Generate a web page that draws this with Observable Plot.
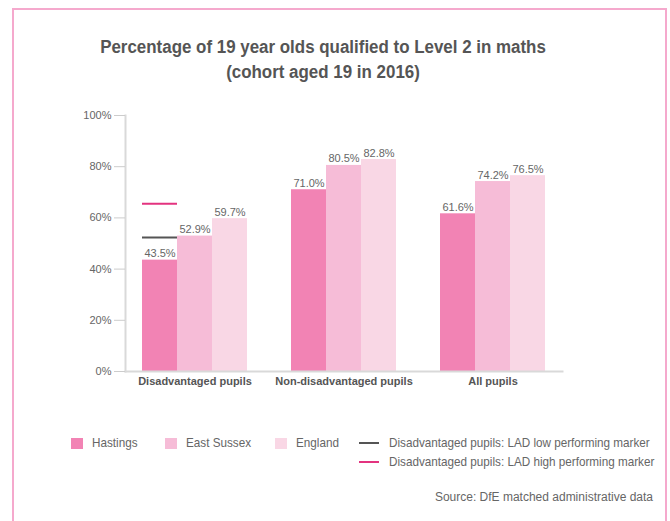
<!DOCTYPE html>
<html><head><meta charset="utf-8">
<script src="https://cdn.jsdelivr.net/npm/d3@7"></script>
<script src="https://cdn.jsdelivr.net/npm/@observablehq/plot@0.6"></script>
<style>
body{margin:0;background:#fff;}
#wrap{position:relative;width:670px;height:521px;overflow:hidden;font-family:"Liberation Sans",Arial,sans-serif;}
#border{position:absolute;left:12px;top:8px;width:651px;height:560px;border:2px solid #f5a9cd;}
#title{position:absolute;left:0;width:646px;top:35px;text-align:center;font-weight:bold;font-size:18px;line-height:25px;color:#555;transform:scaleX(0.94);transform-origin:323px 0;}
#chart{position:absolute;left:0;top:0;}
.sw{position:absolute;width:12px;height:11px;}
.ln{position:absolute;width:20px;height:2px;}
.lt{position:absolute;font-size:13px;line-height:16px;color:#666;white-space:nowrap;transform:scaleX(0.9);transform-origin:0 0;}
#source{position:absolute;right:17px;top:490px;font-size:12px;color:#666;}
#chart svg text{font-family:"Liberation Sans",Arial,sans-serif;}
</style></head>
<body>
<div id="wrap">
  <div id="border"></div>
  <div id="title">Percentage of 19 year olds qualified to Level 2 in maths<br>(cohort aged 19 in 2016)</div>
  <div id="chart"></div>
  <div id="legend"></div>
  <div id="source">Source: DfE matched administrative data</div>
</div>
<script>
const categories = ["Disadvantaged pupils", "Non-disadvantaged pupils", "All pupils"];
const areas = ["Hastings", "East Sussex", "England"];
const hastings = [43.5, 71.0, 61.6];
const eastSussex = [52.9, 80.5, 74.2];
const england = [59.7, 82.8, 76.5];
const areaColors = ["#f283b4", "#f6bcd7", "#f9d7e5"];
const markerNames = ["Disadvantaged pupils: LAD low performing marker", "Disadvantaged pupils: LAD high performing marker"];
const markerValues = [52.3, 65.5];
const markerColors = ["#555555", "#e3337f"];
const yTicks = [0, 20, 40, 60, 80, 100];

const seriesValues = [hastings, eastSussex, england];
const rows = [];
categories.forEach((c, i) => areas.forEach((a, j) => rows.push({category: c, area: a, value: seriesValues[j][i]})));
const markers = markerValues.map((v, k) => ({category: categories[0], area: areas[0], value: v, color: markerColors[k]}));

const chart = Plot.plot({
  width: 670,
  height: 400,
  marginLeft: 124,
  marginRight: 107,
  marginTop: 115,
  marginBottom: 29,
  style: {background: "transparent", fontSize: "11px", color: "#666"},
  fx: {domain: categories, paddingInner: 0.07, paddingOuter: 0},
  x: {domain: areas, paddingInner: 0, paddingOuter: 0.48, axis: null},
  y: {domain: [0, 100]},
  color: {domain: areas, range: areaColors},
  marks: [
    Plot.barY(rows, {fx: "category", x: "area", y: "value", fill: "area"}),
    Plot.text(rows, {fx: "category", x: "area", y: "value", text: d => d.value.toFixed(1) + "%", lineAnchor: "bottom", dy: -3, fill: "#666", fontSize: 11}),
    Plot.tickY(markers, {fx: "category", x: "area", y: "value", stroke: d => d.color, strokeWidth: 2}),
    Plot.frame({anchor: "bottom", facet: "super", stroke: "#d9d9d9", strokeWidth: 2}),
    Plot.frame({anchor: "left", facet: "super", stroke: "#d9d9d9", strokeWidth: 2}),
    Plot.axisY({ticks: yTicks, tickFormat: d => d + "%", tickSize: 11, tickPadding: 3, stroke: "#cccccc", fill: "#666", fontSize: 11, label: null}),
    Plot.axisFx({anchor: "bottom", tickSize: 0, tickPadding: 6, label: null, fontWeight: "bold", fill: "#555", fontSize: 11})
  ]
});
document.getElementById("chart").appendChild(chart);

const legend = document.getElementById("legend");
const swX = [71, 165, 275];
areas.forEach((a, j) => {
  const s = document.createElement("div"); s.className = "sw";
  s.style.left = swX[j] + "px"; s.style.top = "438px"; s.style.background = areaColors[j];
  legend.appendChild(s);
  const t = document.createElement("div"); t.className = "lt"; t.textContent = a;
  t.style.left = (swX[j] + 21) + "px"; t.style.top = "435px";
  legend.appendChild(t);
});
markerNames.forEach((n, k) => {
  const l = document.createElement("div"); l.className = "ln";
  l.style.left = "359px"; l.style.top = (442 + k * 19) + "px"; l.style.background = markerColors[k];
  legend.appendChild(l);
  const t = document.createElement("div"); t.className = "lt"; t.textContent = n;
  t.style.left = "389px"; t.style.top = (435 + k * 19) + "px";
  legend.appendChild(t);
});
</script>
</body></html>
